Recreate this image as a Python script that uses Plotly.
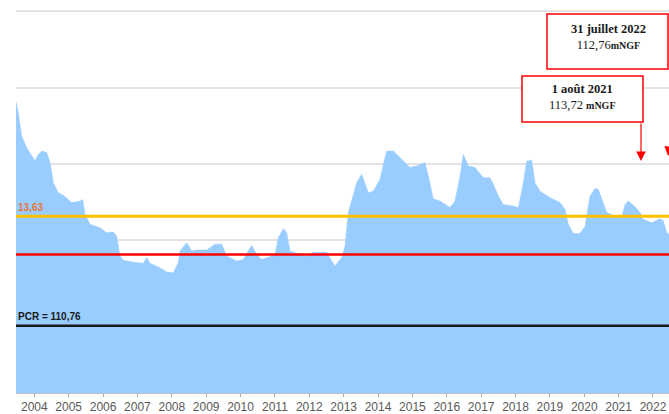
import plotly.graph_objects as go

# Decimal years and water levels (m NGF)
years = [2003.468, 2003.534, 2003.633, 2003.779, 2004.020, 2004.116, 2004.215, 2004.361, 2004.457, 2004.553,
         2004.698, 2004.844, 2005.088, 2005.330, 2005.408, 2005.475, 2005.621, 2005.912, 2006.106, 2006.299,
         2006.397, 2006.493, 2006.589, 2006.880, 2007.171, 2007.270, 2007.366, 2007.657, 2007.852, 2008.044,
         2008.190, 2008.239, 2008.434, 2008.580, 2008.725, 2009.016, 2009.258, 2009.452, 2009.598, 2009.889,
         2010.081, 2010.325, 2010.471, 2010.616, 2010.858, 2011.003, 2011.099, 2011.245, 2011.344, 2011.440,
         2011.731, 2011.926, 2012.118, 2012.508, 2012.653, 2012.749, 2012.944, 2013.040, 2013.136, 2013.235,
         2013.380, 2013.526, 2013.718, 2013.863, 2014.058, 2014.154, 2014.253, 2014.445, 2014.640, 2014.931,
         2015.126, 2015.367, 2015.464, 2015.609, 2015.804, 2016.095, 2016.240, 2016.386, 2016.482, 2016.627,
         2016.822, 2017.064, 2017.259, 2017.355, 2017.500, 2017.646, 2017.937, 2018.082, 2018.228, 2018.326,
         2018.472, 2018.568, 2018.713, 2019.004, 2019.295, 2019.441, 2019.537, 2019.682, 2019.877, 2020.023,
         2020.168, 2020.314, 2020.410, 2020.555, 2020.654, 2020.945, 2021.091, 2021.187, 2021.283, 2021.478,
         2021.624, 2021.719, 2021.964, 2022.205, 2022.301, 2022.400, 2022.467, 2022.580]
levels = [116.63, 116.35, 115.73, 115.43, 115.08, 115.25, 115.34, 115.30, 115.04, 114.51,
          114.25, 114.18, 113.99, 114.03, 114.07, 113.68, 113.42, 113.33, 113.20, 113.22,
          113.11, 112.59, 112.48, 112.43, 112.40, 112.55, 112.40, 112.28, 112.17, 112.15,
          112.42, 112.72, 112.94, 112.72, 112.75, 112.75, 112.90, 112.90, 112.59, 112.46,
          112.50, 112.87, 112.63, 112.50, 112.57, 112.63, 113.07, 113.31, 113.20, 112.72,
          112.63, 112.59, 112.69, 112.69, 112.46, 112.33, 112.55, 112.85, 113.73, 114.07,
          114.51, 114.73, 114.25, 114.29, 114.60, 114.99, 115.34, 115.34, 115.17, 114.91,
          114.95, 115.04, 114.69, 114.09, 114.03, 113.86, 114.03, 114.69, 115.25, 114.95,
          114.91, 114.64, 114.64, 114.47, 114.16, 113.94, 113.90, 113.86, 114.51, 115.08,
          115.10, 114.51, 114.29, 114.12, 113.99, 113.81, 113.42, 113.18, 113.18, 113.37,
          114.16, 114.36, 114.34, 113.99, 113.73, 113.62, 113.60, 113.94, 114.03, 113.88,
          113.73, 113.55, 113.46, 113.57, 113.51, 113.20, 113.16, 112.76]

tick_years = list(range(2004, 2023))
tick_labels = [str(y) for y in tick_years]

orange_level = 113.63
red_level = 112.63
pcr_level = 110.76

fig = go.Figure()
fig.add_trace(go.Scatter(
    x=years, y=levels, mode="lines", fill="tozeroy",
    fillcolor="#99CCFF", line=dict(color="#99CCFF", width=0.5),
    hoverinfo="skip", showlegend=False))

for lvl, col, w in [(orange_level, "#FFC000", 3), (red_level, "#FF0000", 2.5), (pcr_level, "#1A1A1A", 2.5)]:
    fig.add_shape(type="line", xref="paper", x0=0, x1=1, yref="y", y0=lvl, y1=lvl,
                  line=dict(color=col, width=w), layer="above")

fig.add_annotation(xref="paper", x=0, xanchor="left", yref="y", y=orange_level, yanchor="bottom",
                   yshift=1, text="<b>13,63</b>", showarrow=False,
                   font=dict(family="Liberation Sans", size=10, color="#E8773A"))
fig.add_annotation(xref="paper", x=0, xanchor="left", yref="y", y=pcr_level, yanchor="bottom",
                   yshift=2, text="<b>PCR = 110,76</b>", showarrow=False,
                   font=dict(family="Liberation Sans", size=10, color="#1A1A1A"))

# Boxes
fig.add_shape(type="rect", xref="paper", yref="paper",
              x0=(547 - 16) / 653, x1=(668 - 16) / 653, y0=(393 - 69) / 393, y1=(393 - 14) / 393,
              line=dict(color="#FF0000", width=1.5), fillcolor="white", layer="above")
fig.add_shape(type="rect", xref="paper", yref="paper",
              x0=(522 - 16) / 653, x1=(643 - 16) / 653, y0=(393 - 122) / 393, y1=(393 - 76) / 393,
              line=dict(color="#FF0000", width=1.5), fillcolor="white", layer="above")

serif = "Liberation Serif"
fig.add_annotation(xref="paper", yref="paper", x=(608 - 16) / 653, y=(393 - 37) / 393,
                   xanchor="center", yanchor="middle",
                   text="<b>31 juillet 2022</b><br>112,76<span style='font-size:10px'><b>mNGF</b></span>",
                   showarrow=False, align="center", font=dict(family=serif, size=12.5, color="#1A1A1A"))
fig.add_annotation(xref="paper", yref="paper", x=(582 - 16) / 653, y=(393 - 97) / 393,
                   xanchor="center", yanchor="middle",
                   text="<b>1 août 2021</b><br>113,72 <span style='font-size:10px'><b>mNGF</b></span>",
                   showarrow=False, align="center", font=dict(family=serif, size=12.5, color="#1A1A1A"))

# Arrows
fig.add_annotation(xref="paper", yref="paper", x=(641 - 16) / 653, y=(393 - 161) / 393,
                   ax=0, ay=-39, text="", showarrow=True, arrowhead=2, arrowsize=1.6,
                   arrowwidth=1.2, arrowcolor="#FF0000")
fig.add_annotation(xref="paper", yref="paper", x=(673 - 16) / 653, y=(393 - 156) / 393,
                   ax=0, ay=-8, text="", showarrow=True, arrowhead=2, arrowsize=1.6,
                   arrowwidth=1.2, arrowcolor="#FF0000")

fig.update_layout(
    width=669, height=414,
    margin=dict(l=16, r=0, t=0, b=21),
    paper_bgcolor="white", plot_bgcolor="white",
    xaxis=dict(range=[2003.467, 2022.466], tickvals=tick_years, ticktext=tick_labels,
               showgrid=False, zeroline=False, showline=True, linecolor="#BFBFBF", linewidth=1,
               ticks="outside", ticklen=3, tickcolor="#A6A6A6",
               tickfont=dict(family="Liberation Sans", size=12, color="#595959")),
    yaxis=dict(range=[109, 119.3], tickvals=[109, 111, 113, 115, 117, 119], showticklabels=False,
               showgrid=True, gridcolor="#E3E3E3", gridwidth=2, zeroline=False, showline=False),
)

fig.write_html("out.html", config={"displayModeBar": False},
               post_script="document.body.style.margin='0';document.body.style.overflow='hidden';")
